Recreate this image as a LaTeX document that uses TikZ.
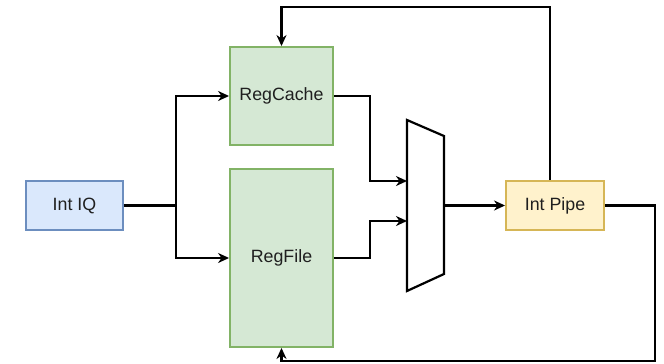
\documentclass[tikz,border=0pt]{standalone}
\usepackage{fontspec}
\setmainfont{Liberation Sans}
\usetikzlibrary{arrows.meta,calc}

\definecolor{iqfill}{HTML}{DAE8FC}
\definecolor{iqline}{HTML}{6C8EBF}
\definecolor{regfill}{HTML}{D5E8D4}
\definecolor{regline}{HTML}{82B366}
\definecolor{pipefill}{HTML}{FFF2CC}
\definecolor{pipeline}{HTML}{D6B656}

\tikzset{
  lbl/.style={font=\fontsize{17.8}{21}\selectfont, text=black!88},
  blk/.style={draw, line width=1.9pt, rectangle, inner sep=0pt, lbl},
  wire/.style={draw=black, line width=2.2pt},
  arr/.style={wire, -{Stealth[length=11pt,width=10pt,inset=3.5pt]}},
}

\begin{document}
\begin{tikzpicture}[x=1pt,y=-1pt]
  \useasboundingbox (0,0) rectangle (664,364);

  % blocks
  \node[blk, fill=iqfill, draw=iqline, minimum width=97pt, minimum height=49pt]
    (iq) at (74.5,205.5) {Int IQ};
  \node[blk, fill=regfill, draw=regline, minimum width=103pt, minimum height=98pt]
    (rc) at (281.5,96) {RegCache};
  \node[blk, fill=regfill, draw=regline, minimum width=103pt, minimum height=178pt]
    (rf) at (281.5,258) {};
  \node[lbl] (rflabel) at (281.5,258) {RegFile};
  \node[blk, fill=pipefill, draw=pipeline, minimum width=98pt, minimum height=49pt]
    (pipe) at (555,205.5) {Int Pipe};

  % multiplexer
  \draw[line width=2.2pt] (407,120) -- (444,136) -- (444,274) -- (407,291) -- cycle;
  \coordinate (m1) at (407,181);
  \coordinate (m2) at (407,221);
  \coordinate (mout) at (444,205.5);

  % routing points
  \coordinate (split) at (176,205.5);
  \coordinate (j1) at (370,140);
  \coordinate (j2) at (370,240);
  \coordinate (topy) at (0,7);
  \coordinate (botc) at (655,361);

  % connectors
  \draw[wire] (iq.east) -- (split);
  \draw[arr] (split) |- (rc.west);
  \draw[arr] (split) |- (rf.west);
  \draw[arr] (rc.east) -| (j1) |- (m1);
  \draw[arr] (rf.east) -| (j2) |- (m2);
  \draw[arr] (mout) -- (pipe.west);
  \draw[arr] ([xshift=-5pt]pipe.north) |- (rc.north |- topy) -- (rc.north);
  \draw[arr] (pipe.east) -| (botc) -| (rf.south);
\end{tikzpicture}
\end{document}
